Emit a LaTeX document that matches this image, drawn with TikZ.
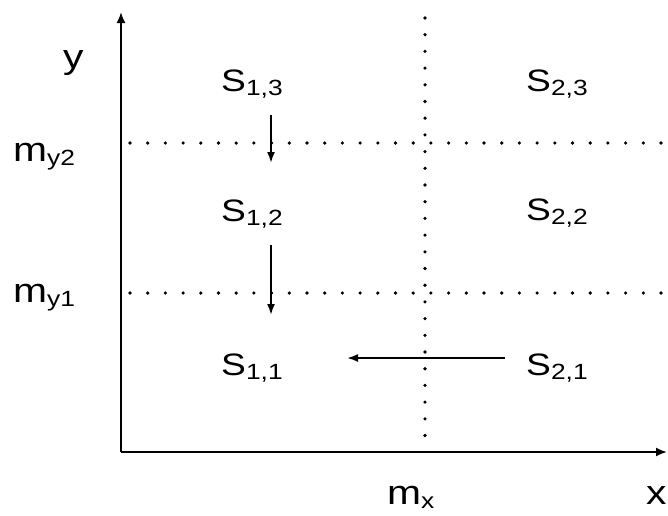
\documentclass[tikz,border=0pt]{standalone}
\usepackage{fontspec}
\setmainfont{Liberation Sans}[FakeStretch=1.2]
\usetikzlibrary{arrows.meta}
\newcommand{\mysub}[1]{\raisebox{-4pt}{\fontsize{22}{22}\selectfont #1}}
\tikzset{
  lab/.style={anchor=base west, inner sep=0pt, font=\fontsize{31}{31}\selectfont},
  axlab/.style={anchor=base west, inner sep=0pt, font=\fontsize{34}{34}\selectfont},
  axis/.style={line width=1.9pt, -{Latex[length=11pt,width=9pt]}},
  arr/.style={line width=1.9pt, -{Latex[length=11pt,width=8pt]}},
  dotv/.style={line width=3.6pt, line cap=round, dash pattern=on 0pt off 16.7pt},
  doth/.style={line width=3.6pt, line cap=round, dash pattern=on 0pt off 17.7pt}
}
\begin{document}
\begin{tikzpicture}[x=1pt,y=-1pt]
\useasboundingbox (0,0) rectangle (668,515);
\fill[white] (0,0) rectangle (668,515);
% axes
\coordinate (O) at (121,452);
\coordinate (ytip) at (121,12);
\coordinate (xtip) at (667,452);
% dotted lines
\coordinate (vt) at (425,18);
\coordinate (vb) at (425,452);
\coordinate (h2a) at (130,143);
\coordinate (h2b) at (668,143);
\coordinate (h1a) at (130,293);
\coordinate (h1b) at (668,293);
\draw[dotv] (vt) -- (vb);
\draw[doth] (h2a) -- (h2b);
\draw[doth] (h1a) -- (h1b);
\draw[axis] (O) -- (ytip);
\draw[axis] (O) -- (xtip);
% labels
\node[axlab] (ylab) at (63,68) {y};
\node[axlab] (xlab) at (646,504) {x};
\node[axlab] (mx) at (387,504) {m\mysub{x}};
\node[axlab] (my2) at (13,161) {m\mysub{y2}};
\node[axlab] (my1) at (13,302) {m\mysub{y1}};
\node[lab] (s13) at (221,91) {S\mysub{1,3}};
\node[lab] (s12) at (221,221) {S\mysub{1,2}};
\node[lab] (s11) at (221,375) {S\mysub{1,1}};
\node[lab] (s23) at (526,91) {S\mysub{2,3}};
\node[lab] (s22) at (526,220) {S\mysub{2,2}};
\node[lab] (s21) at (526,375) {S\mysub{2,1}};
% arrows
\coordinate (a1s) at (271,115);
\coordinate (a1e) at (271,163);
\coordinate (a2s) at (271,245);
\coordinate (a2e) at (271,315);
\coordinate (a3s) at (505,358);
\coordinate (a3e) at (347,358);
\draw[arr] (a1s) -- (a1e);
\draw[arr] (a2s) -- (a2e);
\draw[arr] (a3s) -- (a3e);
\end{tikzpicture}
\end{document}
